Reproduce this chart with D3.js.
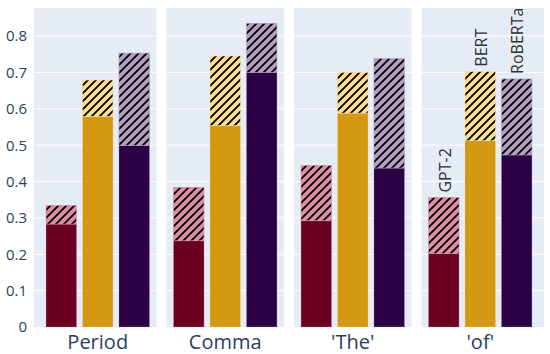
<!DOCTYPE html>
<html>
<head>
<meta charset="utf-8">
<script src="https://cdn.jsdelivr.net/npm/d3@7"></script>
<style>
  body { margin: 0; background: #fff; }
  text { font-family: "Open Sans", sans-serif; }
</style>
</head>
<body>
<div id="chart"></div>
<script>
const categories = ["Period", "Comma", "'The'", "'of'"];
const models = ["GPT-2", "BERT", "RoBERTa"];

// solid part of each bar
const baseGPT2 = [0.283, 0.237, 0.292, 0.202];
const baseBERT = [0.579, 0.554, 0.588, 0.512];
const baseRoBERTa = [0.499, 0.700, 0.437, 0.473];

// top of hatched part (total)
const totalGPT2 = [0.334, 0.384, 0.444, 0.356];
const totalBERT = [0.679, 0.745, 0.700, 0.702];
const totalRoBERTa = [0.753, 0.835, 0.738, 0.682];

const yTicks = [0, 0.1, 0.2, 0.3, 0.4, 0.5, 0.6, 0.7, 0.8];

const bases = { "GPT-2": baseGPT2, "BERT": baseBERT, "RoBERTa": baseRoBERTa };
const totals = { "GPT-2": totalGPT2, "BERT": totalBERT, "RoBERTa": totalRoBERTa };
const dark = { "GPT-2": "#6b0021", "BERT": "#d49813", "RoBERTa": "#2c0045" };
const light = { "GPT-2": "#da8ea3", "BERT": "#f9dc9b", "RoBERTa": "#b09dbf" };

const W = 550, H = 354;
const margin = { top: 8, right: 6, bottom: 27, left: 34 };

const svg = d3.select("#chart").append("svg")
  .attr("width", W).attr("height", H);

const x = d3.scaleBand()
  .domain(categories)
  .range([margin.left, W - margin.right]);

const xm = d3.scaleBand()
  .domain(models)
  .range([0, x.bandwidth()])
  .paddingInner(0.164)
  .paddingOuter(0.33);

const y = d3.scaleLinear()
  .domain([0, 0.877])
  .range([H - margin.bottom, margin.top]);

// hatch patterns
const defs = svg.append("defs");
models.forEach((m, i) => {
  const p = defs.append("pattern")
    .attr("id", "hatch" + i)
    .attr("patternUnits", "userSpaceOnUse")
    .attr("width", 8).attr("height", 8);
  p.append("rect").attr("width", 8).attr("height", 8).attr("fill", light[m]);
  p.append("path")
    .attr("d", "M-2,10 L10,-2 M-6,6 L6,-6 M2,14 L14,2")
    .attr("stroke", "#000").attr("stroke-width", 1.8);
});

// background
svg.append("rect")
  .attr("x", margin.left).attr("y", margin.top)
  .attr("width", W - margin.left - margin.right)
  .attr("height", H - margin.top - margin.bottom)
  .attr("fill", "#e5ecf6");

// grid
svg.append("g").selectAll("line")
  .data(yTicks.slice(1))
  .enter().append("line")
  .attr("x1", margin.left).attr("x2", W - margin.right)
  .attr("y1", d => y(d)).attr("y2", d => y(d))
  .attr("stroke", "#fff").attr("stroke-width", 1);

// separators between panels
svg.append("g").selectAll("rect")
  .data(categories.slice(1))
  .enter().append("rect")
  .attr("x", d => x(d) - 5)
  .attr("y", margin.top)
  .attr("width", 10)
  .attr("height", H - margin.top - margin.bottom)
  .attr("fill", "#fff");

// bars
const rows = [];
categories.forEach((c, ci) => {
  models.forEach((m, mi) => {
    rows.push({ c, m, mi, base: bases[m][ci], total: totals[m][ci], last: ci === categories.length - 1 });
  });
});

const g = svg.append("g");
g.selectAll(".solid")
  .data(rows)
  .enter().append("rect")
  .attr("class", "solid")
  .attr("x", d => x(d.c) + xm(d.m))
  .attr("width", xm.bandwidth())
  .attr("y", d => y(d.base))
  .attr("height", d => y(0) - y(d.base))
  .attr("fill", d => dark[d.m])
  .attr("stroke", d => light[d.m])
  .attr("stroke-opacity", 0.5)
  .attr("stroke-width", 0.6);

g.selectAll(".hatch")
  .data(rows)
  .enter().append("rect")
  .attr("class", "hatch")
  .attr("x", d => x(d.c) + xm(d.m))
  .attr("width", xm.bandwidth())
  .attr("y", d => y(d.total))
  .attr("height", d => y(d.base) - y(d.total))
  .attr("fill", d => "url(#hatch" + d.mi + ")")
  .attr("stroke", d => light[d.m])
  .attr("stroke-width", 0.6);

// model labels on last panel
g.selectAll(".lbl")
  .data(rows.filter(d => d.last))
  .enter().append("text")
  .attr("class", "lbl")
  .attr("transform", d => `translate(${x(d.c) + xm(d.m) + xm.bandwidth() / 2 + 1},${y(d.total) - 5}) rotate(-90)`)
  .attr("dy", "0.36em")
  .attr("text-anchor", "start")
  .attr("font-size", 16)
  .attr("fill", "#333")
  .text(d => d.m);

// y axis labels
svg.append("g").selectAll("text")
  .data(yTicks)
  .enter().append("text")
  .attr("x", 27)
  .attr("y", d => y(d))
  .attr("dy", "0.36em")
  .attr("text-anchor", "end")
  .attr("font-size", 15)
  .attr("fill", "#2a3f5f")
  .text(d => d === 0 ? "0" : d3.format(".1f")(d));

// x axis labels
svg.append("g").selectAll("text")
  .data(categories)
  .enter().append("text")
  .attr("x", d => x(d) + x.bandwidth() / 2)
  .attr("y", H - margin.bottom + 22)
  .attr("text-anchor", "middle")
  .attr("font-size", 20)
  .attr("fill", "#2a3f5f")
  .text(d => d);
</script>
</body>
</html>
